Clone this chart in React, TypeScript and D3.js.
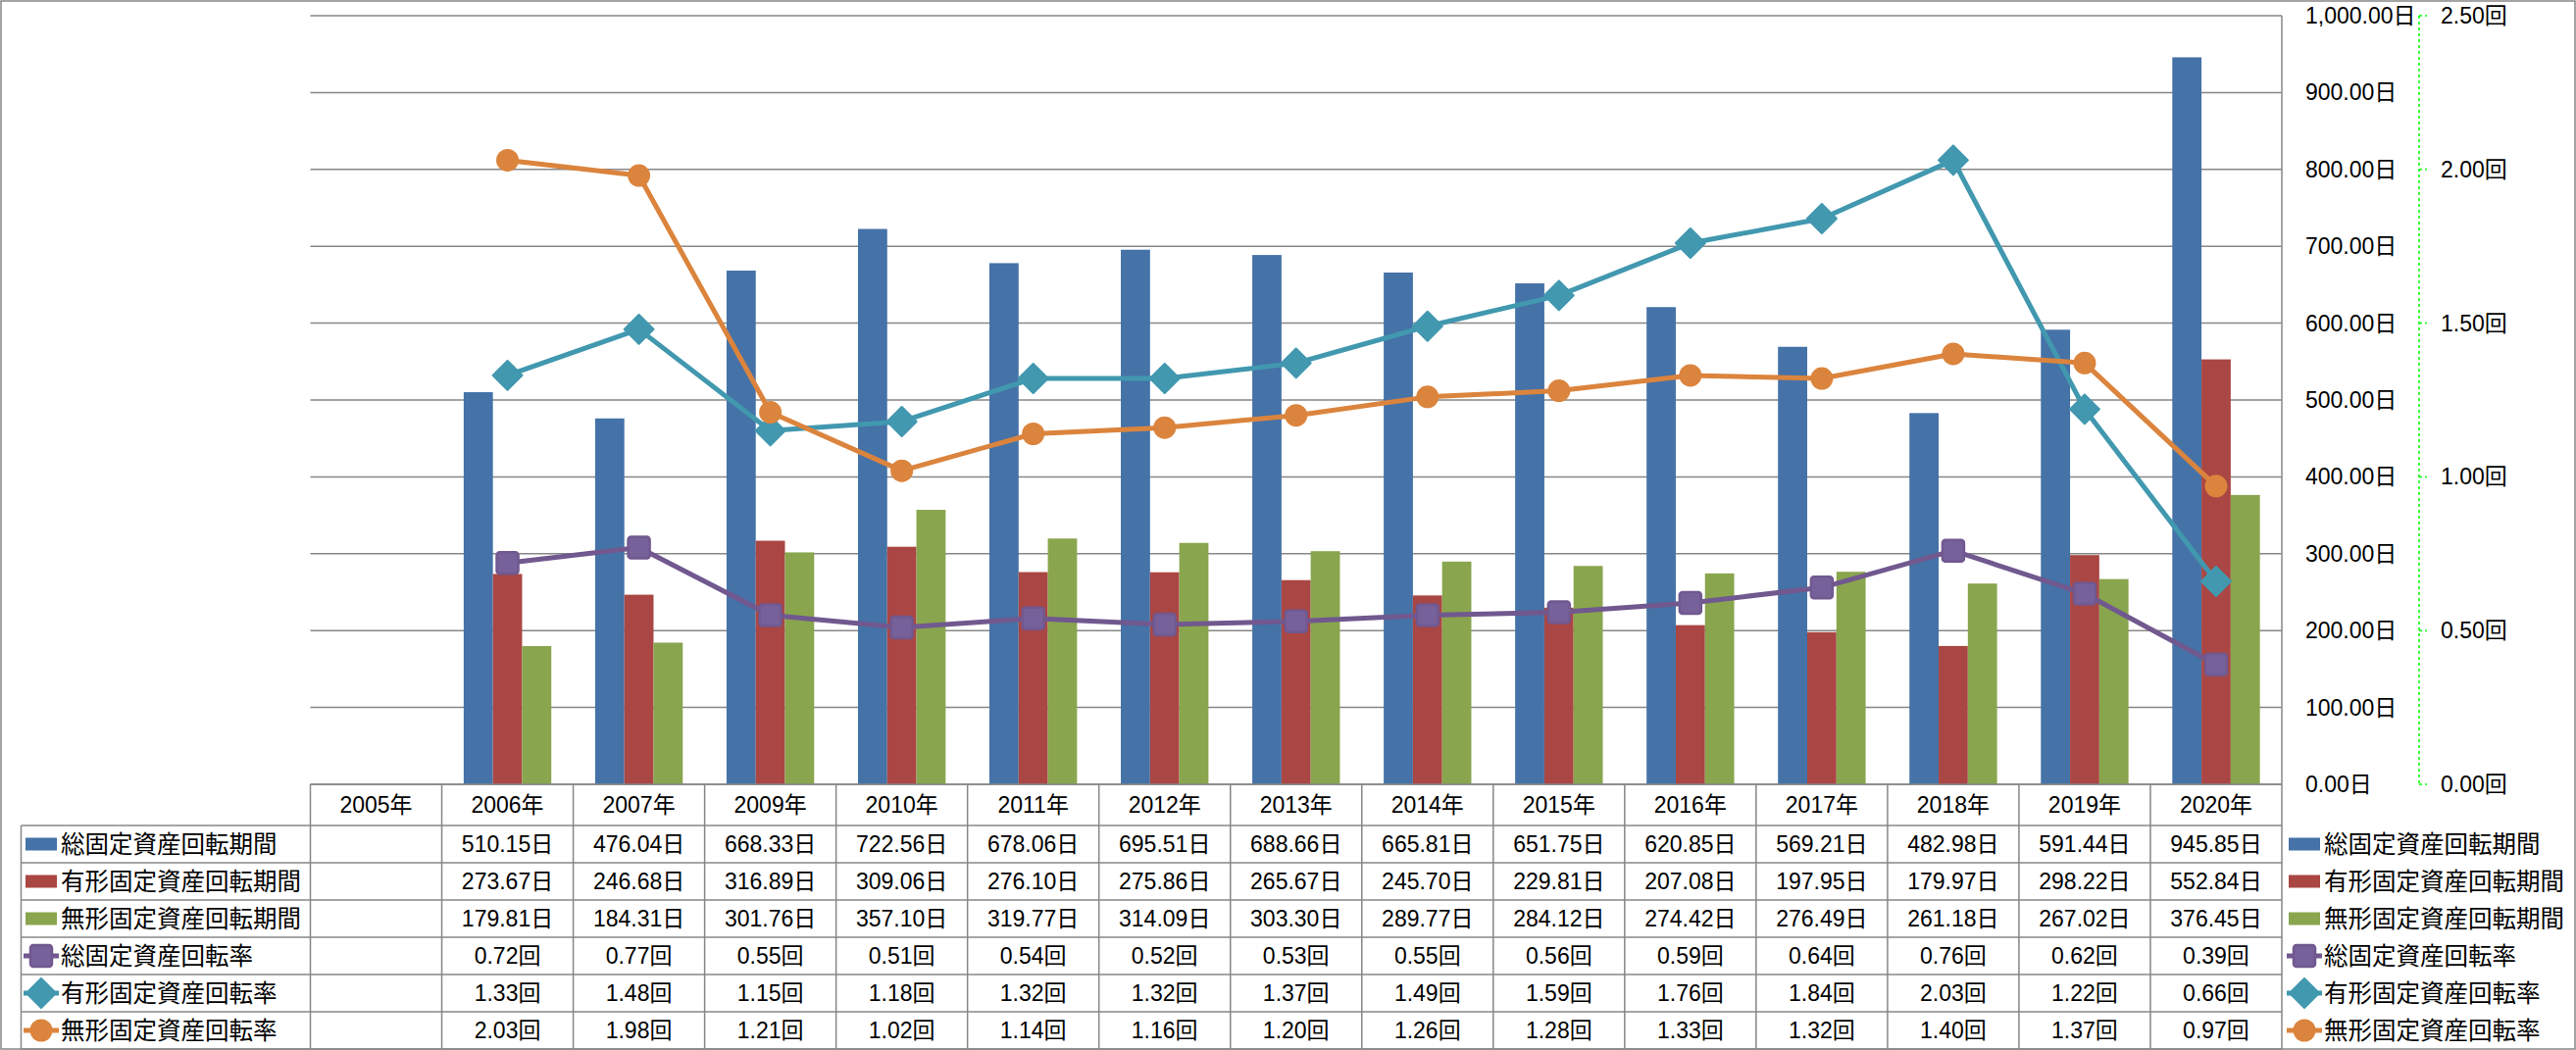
import React from "react";
import * as d3 from "d3";

const categories = ["2005年","2006年","2007年","2009年","2010年","2011年","2012年","2013年","2014年","2015年","2016年","2017年","2018年","2019年","2020年"];
const totalPeriod = [null,510.15,476.04,668.33,722.56,678.06,695.51,688.66,665.81,651.75,620.85,569.21,482.98,591.44,945.85];
const tangiblePeriod = [null,273.67,246.68,316.89,309.06,276.10,275.86,265.67,245.70,229.81,207.08,197.95,179.97,298.22,552.84];
const intangiblePeriod = [null,179.81,184.31,301.76,357.10,319.77,314.09,303.30,289.77,284.12,274.42,276.49,261.18,267.02,376.45];
const totalRate = [null,0.72,0.77,0.55,0.51,0.54,0.52,0.53,0.55,0.56,0.59,0.64,0.76,0.62,0.39];
const tangibleRate = [null,1.33,1.48,1.15,1.18,1.32,1.32,1.37,1.49,1.59,1.76,1.84,2.03,1.22,0.66];
const intangibleRate = [null,2.03,1.98,1.21,1.02,1.14,1.16,1.20,1.26,1.28,1.33,1.32,1.40,1.37,0.97];
const dayTicks = [0,100,200,300,400,500,600,700,800,900,1000];
const rateTicks = [0,0.5,1,1.5,2,2.5];

const barSeries = [
  { name: "総固定資産回転期間", values: totalPeriod, color: "#4572A7" },
  { name: "有形固定資産回転期間", values: tangiblePeriod, color: "#AA4643" },
  { name: "無形固定資産回転期間", values: intangiblePeriod, color: "#89A54E" },
];
const lineSeries = [
  { name: "総固定資産回転率", values: totalRate, color: "#71588F", marker: "square" },
  { name: "有形固定資産回転率", values: tangibleRate, color: "#4198AF", marker: "diamond" },
  { name: "無形固定資産回転率", values: intangibleRate, color: "#DB843D", marker: "circle" },
];

const W = 2627, H = 1071;
const PL = 316.5, PR = 2327, PT = 16, PB = 800;
const TABLE_LEFT = 21.5, HEADER_BOTTOM = 842, TABLE_BOTTOM = 1070;
const FONT = "'Liberation Sans', 'Noto Sans CJK JP', sans-serif";
const GRID = "#878787";

function Marker({ type, x, y, color }: { type: string; x: number; y: number; color: string }) {
  if (type === "square") {
    return <rect x={x - 11} y={y - 11} width={22} height={22} rx={3} fill="#77619A" stroke={color} strokeWidth={2.5} />;
  }
  if (type === "diamond") {
    const r = 15;
    return <path d={`M${x},${y - r}L${x + r},${y}L${x},${y + r}L${x - r},${y}Z`} fill={color} stroke={color} strokeWidth={2} strokeLinejoin="round" />;
  }
  return <circle cx={x} cy={y} r={11.5} fill={color} />;
}

export default function App() {
  const x = d3.scaleBand<string>().domain(categories).range([PL, PR]).paddingInner(0).paddingOuter(0);
  const bw = x.bandwidth();
  const xs = d3.scaleBand<string>().domain(barSeries.map(s => s.name)).range([0, bw]).paddingInner(0).paddingOuter(0.75);
  const yDays = d3.scaleLinear().domain([0, 1000]).range([PB, PT]);
  const yRate = d3.scaleLinear().domain([0, 2.5]).range([PB, PT]);
  const fmtDay = d3.format(",.2f");
  const fmt2 = d3.format(".2f");
  const rowH = (TABLE_BOTTOM - HEADER_BOTTOM) / 6;
  const rowY = (i: number) => HEADER_BOTTOM + rowH * i;
  const cx = (c: string) => (x(c) as number) + bw / 2;

  const rows = [
    ...barSeries.map(s => ({ name: s.name, kind: "bar", color: s.color, marker: "", cells: s.values.map(v => (v == null ? "" : fmt2(v) + "日")) })),
    ...lineSeries.map(s => ({ name: s.name, kind: "line", color: s.color, marker: s.marker, cells: s.values.map(v => (v == null ? "" : fmt2(v) + "回")) })),
  ];

  const legendKey = (r: any, x0: number, yc: number) =>
    r.kind === "bar" ? (
      <rect x={x0} y={yc - 6.5} width={32} height={13} fill={r.color} />
    ) : (
      <g>
        <line x1={x0 - 2} x2={x0 + 34} y1={yc} y2={yc} stroke={r.color} strokeWidth={5} />
        <Marker type={r.marker} x={x0 + 16} y={yc} color={r.color} />
      </g>
    );

  return (
    <svg width={W} height={H} style={{ position: "absolute", left: 0, top: 0, display: "block", background: "#fff" }} fontFamily={FONT}>
      <rect x={0} y={0} width={W} height={H} fill="#fff" />
      <rect x={1} y={1} width={2625} height={1069} fill="none" stroke={GRID} strokeWidth={1.5} />
      {/* gridlines */}
      {dayTicks.map(t => (
        <line key={t} x1={PL} x2={PR} y1={yDays(t)} y2={yDays(t)} stroke={GRID} strokeWidth={1.5} />
      ))}
      <line x1={PR} x2={PR} y1={PT} y2={TABLE_BOTTOM} stroke={GRID} strokeWidth={1.5} />
      {/* bars */}
      {barSeries.map(s => (
        <g key={s.name}>
          {s.values.map((v, i) =>
            v == null ? null : (
              <rect key={i} x={(x(categories[i]) as number) + (xs(s.name) as number)} y={yDays(v)} width={xs.bandwidth()} height={PB - yDays(v)} fill={s.color} />
            )
          )}
        </g>
      ))}
      {/* lines */}
      {lineSeries.map(s => {
        const line = d3.line<number | null>().defined(v => v != null).x((_, i) => cx(categories[i])).y(v => yRate(v as number));
        return (
          <g key={s.name}>
            <path d={line(s.values) as string} fill="none" stroke={s.color} strokeWidth={5} strokeLinejoin="round" />
            {s.values.map((v, i) => (v == null ? null : <Marker key={i} type={s.marker} x={cx(categories[i])} y={yRate(v)} color={s.color} />))}
          </g>
        );
      })}
      {/* day axis labels */}
      {dayTicks.map(t => (
        <text key={t} x={2351} y={yDays(t)} dy="0.35em" fontSize={23} fill="#000">{fmtDay(t) + "日"}</text>
      ))}
      {/* rate axis */}
      <line x1={2467} x2={2467} y1={PT} y2={PB} stroke="#00FF00" strokeWidth={1.5} strokeDasharray="3,3" />
      {rateTicks.map(t => (
        <g key={t}>
          <line x1={2467} x2={2475} y1={yRate(t)} y2={yRate(t)} stroke="#00FF00" strokeWidth={1.5} strokeDasharray="3,3" />
          <text x={2489} y={yRate(t)} dy="0.35em" fontSize={23} fill="#000">{fmt2(t) + "回"}</text>
        </g>
      ))}
      {/* table */}
      <line x1={PL} x2={PR} y1={PB} y2={PB} stroke={GRID} strokeWidth={1.5} />
      {rows.map((r, i) => (
        <line key={i} x1={TABLE_LEFT} x2={PR} y1={rowY(i)} y2={rowY(i)} stroke={GRID} strokeWidth={1.5} />
      ))}
      <line x1={TABLE_LEFT} x2={PR} y1={TABLE_BOTTOM} y2={TABLE_BOTTOM} stroke={GRID} strokeWidth={1.5} />
      <line x1={TABLE_LEFT} x2={TABLE_LEFT} y1={HEADER_BOTTOM} y2={TABLE_BOTTOM} stroke={GRID} strokeWidth={1.5} />
      {categories.map(c => (
        <line key={c} x1={x(c) as number} x2={x(c) as number} y1={PB} y2={TABLE_BOTTOM} stroke={GRID} strokeWidth={1.5} />
      ))}
      {categories.map(c => (
        <text key={c} x={cx(c)} y={(PB + HEADER_BOTTOM) / 2} dy="0.35em" textAnchor="middle" fontSize={23} fill="#000">{c}</text>
      ))}
      {rows.map((r, i) => {
        const yc = rowY(i) + rowH / 2;
        return (
          <g key={r.name}>
            {legendKey(r, 26, yc)}
            <text x={62} y={yc} dy="0.35em" fontSize={24.5} fill="#000">{r.name}</text>
            {r.cells.map((t, j) => (
              <text key={j} x={cx(categories[j])} y={yc} dy="0.35em" textAnchor="middle" fontSize={23} fill="#000">{t}</text>
            ))}
            {legendKey(r, 2334, yc)}
            <text x={2370} y={yc} dy="0.35em" fontSize={24.5} fill="#000">{r.name}</text>
          </g>
        );
      })}
    </svg>
  );
}
